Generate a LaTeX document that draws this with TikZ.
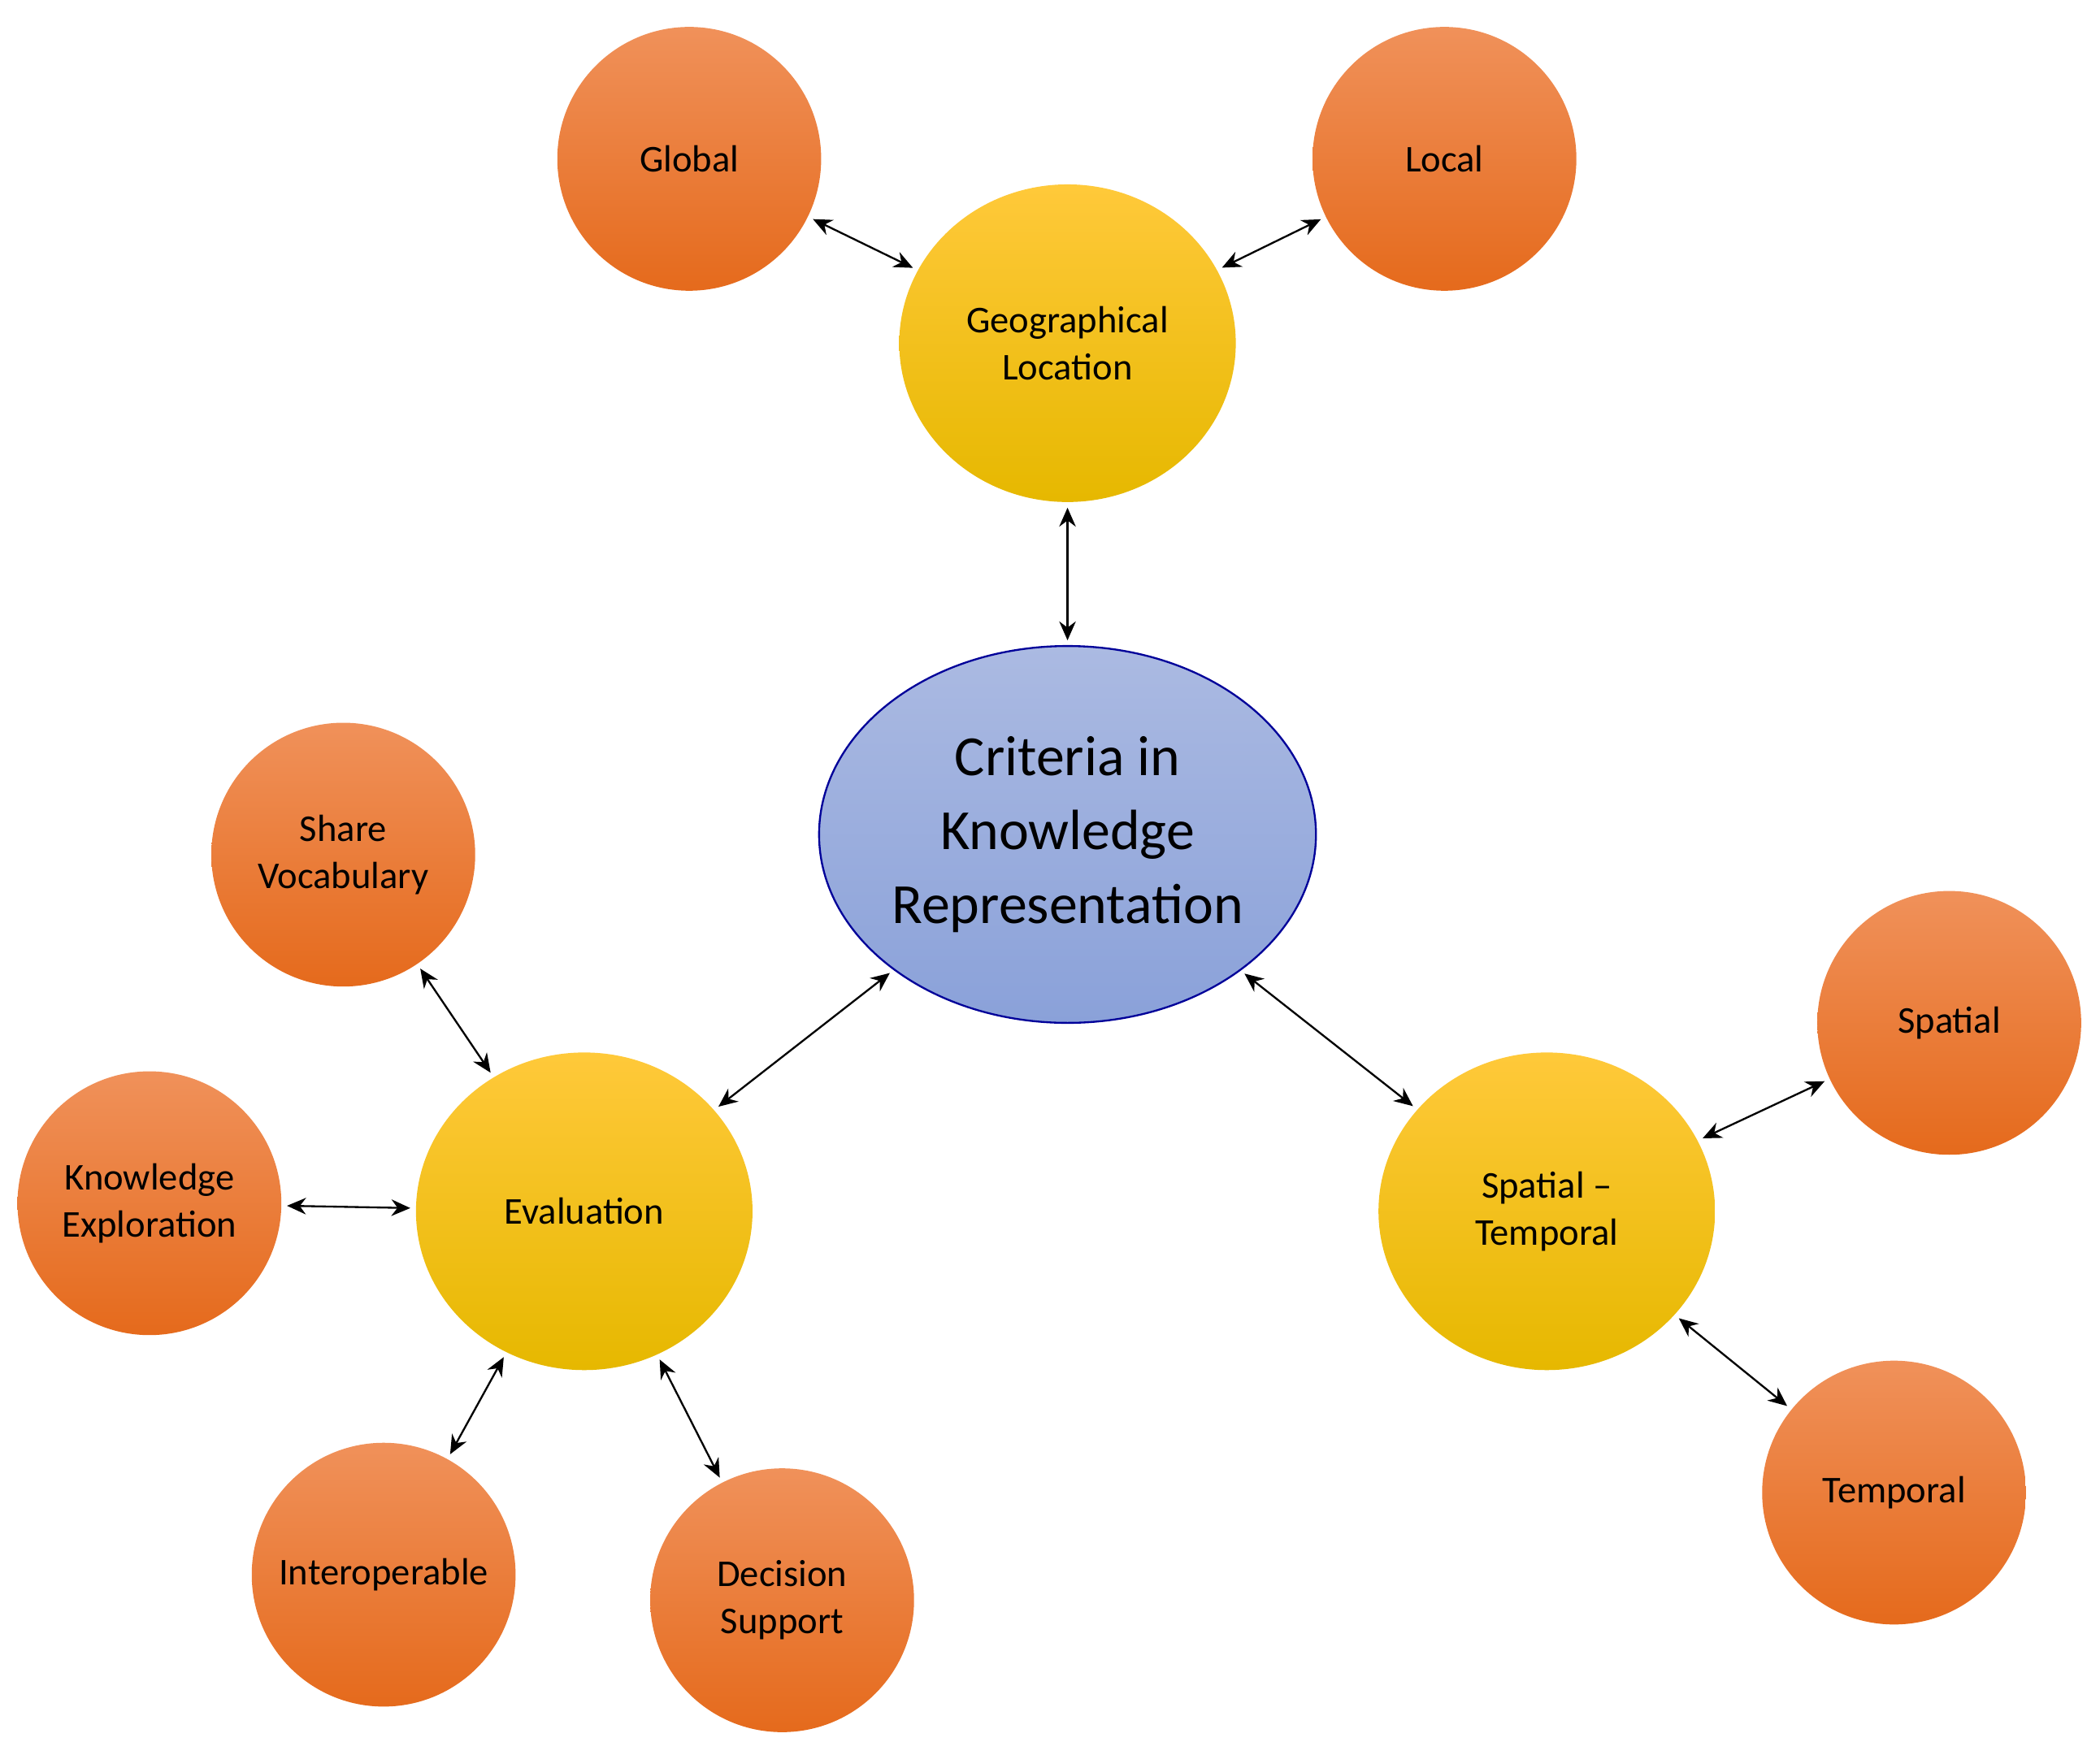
\documentclass[tikz,border=0pt]{standalone}
\usepackage{fontspec}
\setmainfont{Carlito}
\usetikzlibrary{shapes.geometric,arrows.meta}
\definecolor{orgtop}{HTML}{F0915A}
\definecolor{orgbot}{HTML}{E56A1C}
\definecolor{yeltop}{HTML}{FFC93A}
\definecolor{yelbot}{HTML}{E6B800}
\definecolor{blutop}{HTML}{ABBAE2}
\definecolor{blubot}{HTML}{8AA1D9}
\tikzset{
    leaf/.style={circle,minimum size=1.96cm,top color=orgtop,bottom color=orgbot,
        align=center,font=\fontsize{8}{10}\selectfont,inner sep=0pt},
    hub/.style={ellipse,minimum width=2.5cm,minimum height=2.36cm,top color=yeltop,
        bottom color=yelbot,align=center,font=\fontsize{8}{10}\selectfont,inner sep=0pt},
    core/.style={ellipse,minimum width=2.9cm,minimum height=2.8cm,top color=blutop,
        bottom color=blubot,draw=blue!60!black,thin,align=center,
        font=\fontsize{12}{15.6}\selectfont,inner sep=0pt},
    link/.style={<->,>={Stealth[length=4pt,width=3.5pt]},thin,shorten <=1pt,shorten >=1pt}
}
\begin{document}
\begin{tikzpicture}
\useasboundingbox (0,0) rectangle (15.6,-13.04);
\node[core] (crit) at (7.93,-6.20) {Criteria in\\Knowledge\\Representation};
\node[hub] (geo) at (7.93,-2.55) {Geographical\\Location};
\node[hub] (eval) at (4.34,-9.00) {Evaluation};
\node[hub] (spt) at (11.49,-9.00) {Spatial --\\Temporal};
\node[leaf] (glob) at (5.12,-1.18) {Global};
\node[leaf] (loc) at (10.73,-1.18) {Local};
\node[leaf] (share) at (2.55,-6.35) {Share\\Vocabulary};
\node[leaf] (kexp) at (1.11,-8.94) {Knowledge\\Exploration};
\node[leaf] (inter) at (2.85,-11.70) {Interoperable};
\node[leaf] (dec) at (5.81,-11.89) {Decision\\Support};
\node[leaf] (spa) at (14.48,-7.60) {Spatial};
\node[leaf] (tem) at (14.07,-11.09) {Temporal};

\draw[link] (geo) -- (crit);
\draw[link] (glob) -- (geo);
\draw[link] (loc) -- (geo);
\draw[link] (crit) -- (eval);
\draw[link] (crit) -- (spt);
\draw[link] (share) -- (eval);
\draw[link] (kexp) -- (eval);
\draw[link] (inter) -- (eval);
\draw[link] (dec) -- (eval);
\draw[link] (spa) -- (spt);
\draw[link] (tem) -- (spt);
\end{tikzpicture}
\end{document}
